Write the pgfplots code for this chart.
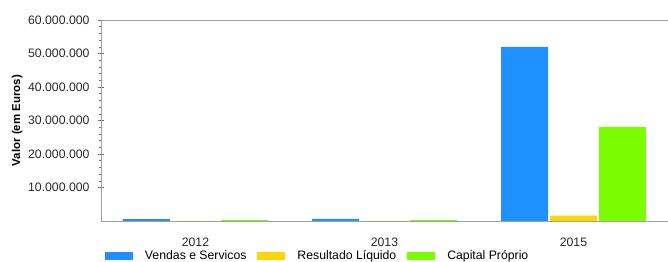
\documentclass[border=0pt]{standalone}
\usepackage{pgfplots}
\pgfplotsset{compat=1.18}
\usepackage{fontspec}
\setmainfont{Liberation Sans}
\definecolor{cblue}{HTML}{1E90FF}
\definecolor{cgold}{HTML}{FFD700}
\definecolor{cgreen}{HTML}{7CFC00}
\definecolor{axgray}{HTML}{A0A0A0}
\definecolor{tickgray}{HTML}{707070}
\begin{document}
\begin{tikzpicture}
\begin{axis}[
  at={(0,0)}, anchor=south west,
  scale only axis, width=567bp, height=201bp,
  xmin=-0.5, xmax=2.5, ymin=0, ymax=60000000,
  axis x line*=bottom, axis y line*=left,
  axis line style={axgray, line width=0.8pt, -},
  ybar=2bp, bar width=47bp,
  xtick={0,1,2}, xticklabels={2012,2013,2015},
  x tick style={draw=none},
  extra x ticks={0.5,1.5}, extra x tick labels={},
  extra x tick style={major tick length=7bp, tick align=center, tick style={tickgray, line width=0.6pt, draw=tickgray}},
  xticklabel style={yshift=-10bp},
  ytick={10000000,20000000,30000000,40000000,50000000,60000000},
  minor y tick num=4,
  y tick style={tickgray, line width=0.6pt},
  tick align=center,
  major tick length=6bp, minor tick length=3bp,
  scaled y ticks=false,
  yticklabel style={/pgf/number format/fixed, /pgf/number format/1000 sep={.}, xshift=-5bp},
  /pgf/number format/assume math mode=true,
  tick label style={font=\fontsize{12.3}{14}\selectfont, text=black!85},
  ylabel={Valor (em Euros)},
  ylabel style={at={(axis description cs:-0.148,0.5)}, anchor=center, font=\bfseries\fontsize{11.5}{13}\selectfont},
  legend columns=3,
  legend style={at={(4bp,-35bp)}, anchor=west, draw=none, fill=none, inner sep=0pt, outer sep=0pt,
    font=\fontsize{12.3}{14}\selectfont, nodes={inner sep=0pt},
    /tikz/every odd column/.style={column sep=12bp},
    /tikz/every even column/.style={column sep=11bp}},
  legend image code/.code={\fill[#1] (0bp,-4bp) rectangle (28bp,4bp);},
]
\addplot[fill=cblue, draw=none] coordinates {(0,550000) (1,600000) (2,52000000)};
\addplot[fill=cgold, draw=none] coordinates {(0,30000) (1,30000) (2,1600000)};
\addplot[fill=cgreen, draw=none] coordinates {(0,250000) (1,250000) (2,28100000)};
\legend{Vendas e Servicos, Resultado Líquido, Capital Próprio}
\draw[axgray, line width=0.8pt] (rel axis cs:0,1) -- (rel axis cs:1,1);
\end{axis}
\pgfresetboundingbox
\path[use as bounding box] (-101bp,-41bp) rectangle (567bp,221bp);
\end{tikzpicture}
\end{document}
